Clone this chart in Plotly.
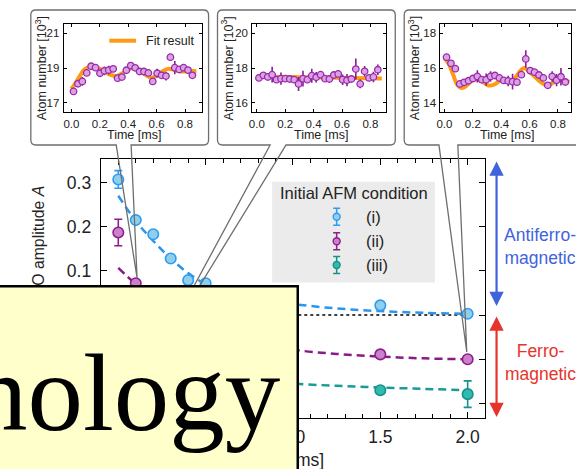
import plotly.graph_objects as go

W, H = 576, 469
def px(x): return x / W
def py(y): return 1 - y / H

FONT = "Liberation Sans, Arial, sans-serif"
SERIF = "Liberation Serif, Times New Roman, serif"

# ---------------- main panel data ----------------
t_i = [0.0, 0.1, 0.2, 0.3, 0.4, 0.5, 1.5, 2.0]
amp_i = [0.307, 0.215, 0.183, 0.128, 0.079, 0.072, 0.022, 0.003]
err_i = [0.020, 0.006, 0.006, 0.006, 0.006, 0.006, 0.006, 0.006]

t_ii = [0.0, 0.1, 1.5, 2.0]
amp_ii = [0.187, 0.072, -0.089, -0.100]
err_ii = [0.030, 0.006, 0.008, 0.006]

t_iii = [1.5, 2.0]
amp_iii = [-0.170, -0.179]
err_iii = [0.006, 0.030]

fit_t = [0.0, 0.1, 0.2, 0.3, 0.4, 0.5, 0.6, 0.8, 1.0, 1.25, 1.5, 1.75, 2.0]
fit_i = [0.27, 0.213, 0.168, 0.128, 0.095, 0.07, 0.055, 0.036, 0.025, 0.015, 0.009, 0.005, 0.003]
fit_ii = [0.107, 0.07, 0.04, 0.015, -0.005, -0.022, -0.037, -0.06, -0.078, -0.088, -0.094, -0.098, -0.1]
fit_iii = [-0.07, -0.085, -0.1, -0.11, -0.12, -0.128, -0.135, -0.147, -0.155, -0.16, -0.164, -0.167, -0.17]

zero_t = [0.0, 2.03]
zero_v = [0.0, 0.0]

labels = ["(i)", "(ii)", "(iii)"]

# ---------------- inset data ----------------
t_in = [0.015, 0.046, 0.077, 0.108, 0.139, 0.170, 0.201, 0.232, 0.263, 0.294,
        0.325, 0.356, 0.387, 0.418, 0.449, 0.480, 0.511, 0.542, 0.573, 0.604,
        0.635, 0.666, 0.697, 0.728, 0.759, 0.790, 0.821, 0.852]

n1 = [17.66, 18.10, 18.23, 18.72, 19.10, 19.02, 18.70, 18.84, 18.88, 18.95,
      18.42, 18.48, 18.87, 19.14, 19.01, 18.80, 18.80, 18.72, 18.23, 18.70,
      18.58, 18.54, 19.62, 19.02, 18.92, 19.02, 18.88, 18.58]
e1 = [0.1, 0.12, 0.25, 0.12, 0.1, 0.1, 0.1, 0.25, 0.25, 0.1, 0.12, 0.1, 0.1, 0.1,
      0.1, 0.1, 0.1, 0.1, 0.1, 0.25, 0.15, 0.25, 0.1, 0.38, 0.15, 0.15, 0.1, 0.12]
f1_t = [0.0, 0.03, 0.06, 0.09, 0.12, 0.16, 0.20, 0.24, 0.28, 0.32, 0.36, 0.40,
        0.44, 0.48, 0.52, 0.56, 0.60, 0.64, 0.68, 0.72, 0.76, 0.80, 0.84, 0.88]
f1_v = [17.8, 18.15, 18.55, 18.9, 19.05, 19.05, 18.95, 18.75, 18.6, 18.55, 18.7, 18.92,
        19.0, 18.88, 18.62, 18.45, 18.55, 18.8, 18.95, 18.9, 18.82, 18.8, 18.82, 18.82]

n2 = [17.43, 17.58, 17.49, 17.62, 17.33, 17.39, 17.39, 17.37, 17.33, 17.09,
      17.39, 17.33, 17.56, 17.47, 17.62, 17.39, 17.37, 17.60, 17.66, 17.33,
      17.30, 17.37, 17.94, 17.09, 17.81, 17.43, 17.49, 17.90]
e2 = [0.1, 0.1, 0.2, 0.45, 0.1, 0.35, 0.1, 0.1, 0.1, 0.4, 0.45, 0.1, 0.4, 0.3,
      0.1, 0.1, 0.1, 0.1, 0.1, 0.3, 0.35, 0.15, 0.6, 0.25, 0.3, 0.15, 0.3, 0.3]
f2_t = [0.0, 0.45, 0.88]
f2_v = [17.52, 17.46, 17.40]

n3 = [16.62, 16.27, 15.96, 15.09, 15.18, 15.27, 15.40, 15.52, 15.33, 15.33,
      15.52, 15.57, 15.43, 15.29, 15.26, 15.22, 15.19, 15.62, 16.52, 15.85,
      15.76, 15.60, 15.43, 15.01, 15.52, 15.30, 15.50, 15.20]
e3 = [0.1, 0.1, 0.1, 0.1, 0.1, 0.1, 0.1, 0.35, 0.1, 0.35, 0.3, 0.1, 0.1, 0.1,
      0.3, 0.45, 0.1, 0.1, 0.5, 0.1, 0.1, 0.1, 0.1, 0.1, 0.3, 0.35, 0.5, 0.15]
f3_t = [0.0, 0.03, 0.06, 0.09, 0.12, 0.15, 0.19, 0.23, 0.27, 0.31, 0.35, 0.39, 0.43,
        0.47, 0.50, 0.53, 0.56, 0.59, 0.63, 0.67, 0.71, 0.75, 0.79, 0.83, 0.88]
f3_v = [16.55, 16.25, 15.65, 15.05, 14.85, 14.95, 15.25, 15.35, 15.2, 15.0, 15.05, 15.25,
        15.25, 15.2, 15.45, 15.8, 16.0, 15.85, 15.55, 15.25, 15.05, 15.1, 15.25, 15.3, 15.2]

# ---------------- styles ----------------
EDGE = ["#2e9cf2", "#8a1f8a", "#17918c"]
FILL = ["#90cfea", "#cc80cc", "#2fbcae"]
DASHC = ["#2b95ee", "#8b1a89", "#1a9c96"]
IN_EDGE, IN_FILL, IN_ERR, ORANGE = "#9a2aa8", "#d9a2e4", "#8a1a9a", "#ff9a14"

fig = go.Figure()

# dotted zero line
fig.add_trace(go.Scatter(x=zero_t, y=zero_v, mode="lines",
                         line=dict(color="black", width=1.5, dash="dot"),
                         xaxis="x", yaxis="y", showlegend=False))
for fv, c in zip([fit_i, fit_ii, fit_iii], DASHC):
    fig.add_trace(go.Scatter(x=fit_t, y=fv, mode="lines", line_shape="spline",
                             line=dict(color=c, width=2.5, dash="8px,5px"),
                             xaxis="x", yaxis="y", showlegend=False))
for (tt, aa, ee), k in zip([(t_i, amp_i, err_i), (t_ii, amp_ii, err_ii), (t_iii, amp_iii, err_iii)], range(3)):
    fig.add_trace(go.Scatter(x=tt, y=aa, mode="markers",
                             marker=dict(size=10.5, color=FILL[k], line=dict(color=EDGE[k], width=1.6)),
                             error_y=dict(type="data", array=ee, color=EDGE[k], thickness=1.6, width=4),
                             xaxis="x", yaxis="y", showlegend=False))

# insets
for k, (nn, ee, ft, fv) in enumerate([(n1, e1, f1_t, f1_v), (n2, e2, f2_t, f2_v), (n3, e3, f3_t, f3_v)]):
    xa = "x%d" % (k + 2)
    ya = "y%d" % (k + 2)
    fig.add_trace(go.Scatter(x=ft, y=fv, mode="lines", line_shape="spline",
                             line=dict(color=ORANGE, width=4), xaxis=xa, yaxis=ya, showlegend=False))
    fig.add_trace(go.Scatter(x=t_in, y=nn, mode="markers",
                             marker=dict(size=6.5, color=IN_FILL, line=dict(color=IN_EDGE, width=1.3)),
                             error_y=dict(type="data", array=ee, color=IN_ERR, thickness=1.6, width=0),
                             xaxis=xa, yaxis=ya, showlegend=False))

# legend key symbols (overlay pixel axis)
leg_x = 335
leg_y = [216.7, 241.2, 265.0]
for k in range(3):
    fig.add_trace(go.Scatter(x=[leg_x], y=[leg_y[k]], mode="markers",
                             marker=dict(size=7, color=FILL[k], line=dict(color=EDGE[k], width=1.4)),
                             error_y=dict(type="data", array=[8.5], color=EDGE[k], thickness=1.5, width=3.5),
                             xaxis="x5", yaxis="y5", showlegend=False))

axline = dict(showline=True, linecolor="black", mirror="allticks", ticks="inside",
              tickcolor="black", showgrid=False, zeroline=False)

layout = dict(
    width=W, height=H, autosize=False,
    margin=dict(l=0, r=0, t=0, b=0),
    paper_bgcolor="white", plot_bgcolor="rgba(0,0,0,0)",
    font=dict(family=FONT, color="#222"),
    xaxis=dict(domain=[px(97.5), px(484.5)], range=[-0.1, 2.1], anchor="y",
               linewidth=1.3, ticklen=6, tickwidth=1.2,
               tickvals=[0, 0.5, 1.0, 1.5, 2.0], ticktext=["0.0", "0.5", "1.0", "1.5", "2.0"],
               tickfont=dict(size=17.5, family=FONT, color="#222"),
               minor=dict(dtick=0.1, tick0=0, ticks="inside", ticklen=3.5, tickcolor="black", tickwidth=1),
               ticklabelstandoff=3, **axline),
    yaxis=dict(domain=[py(417.7), py(159.3)], range=[-0.2323, 0.3526], anchor="x",
               linewidth=1.3, ticklen=6, tickwidth=1.2,
               tickvals=[-0.2, -0.1, 0.0, 0.1, 0.2, 0.3],
               ticktext=["-0.2", "-0.1", "0.0", "0.1", "0.2", "0.3"],
               tickfont=dict(size=17.5, family=FONT, color="#222"),
               ticklabelstandoff=5, **axline),
    xaxis5=dict(domain=[0, 1], range=[0, W], anchor="y5", visible=False, fixedrange=True),
    yaxis5=dict(domain=[0, 1], range=[H, 0], anchor="x5", visible=False, fixedrange=True),
)

inset_x = [(60, 199.3, -0.055, 0.919), (250, 384.3, -0.032, 0.907), (439.5, 571.3, -0.028, 0.894)]
inset_y = [(16.5, 21.5, [17, 19, 21]), (15.5, 20.5, [16, 18, 20]), (13.5, 18.5, [14, 16, 18])]
for k in range(3):
    x0, x1, r0, r1 = inset_x[k]
    lo, hi, yt = inset_y[k]
    layout["xaxis%d" % (k + 2)] = dict(domain=[px(x0), px(x1)], range=[r0, r1], anchor="y%d" % (k + 2),
                                       linewidth=1, ticklen=3, tickwidth=1,
                                       tickvals=[0, 0.2, 0.4, 0.6, 0.8],
                                       ticktext=["0.0", "0.2", "0.4", "0.6", "0.8"],
                                       tickfont=dict(size=11.5, family=FONT, color="#222"),
                                       ticklabelstandoff=1, **axline)
    layout["yaxis%d" % (k + 2)] = dict(domain=[py(111.7), py(24.3)], range=[lo, hi], anchor="x%d" % (k + 2),
                                       linewidth=1, ticklen=3, tickwidth=1, tickvals=yt,
                                       tickfont=dict(size=11.5, family=FONT, color="#222"),
                                       ticklabelstandoff=1, **axline)

fig.update_layout(**layout)

# ---------------- shapes ----------------
def callout(L, R, T, B, a, b, tip, r=5):
    def P(x, y):
        return "%.5f,%.5f" % (px(x), py(y))
    d = "M" + P(a, B)
    d += " L" + P(L + r, B) + " Q" + P(L, B) + " " + P(L, B - r)
    d += " L" + P(L, T + r) + " Q" + P(L, T) + " " + P(L + r, T)
    d += " L" + P(R - r, T) + " Q" + P(R, T) + " " + P(R, T + r)
    d += " L" + P(R, B - r) + " Q" + P(R, B) + " " + P(R - r, B)
    d += " L" + P(b, B) + " L" + P(tip[0], tip[1]) + " Z"
    return dict(type="path", path=d, xref="paper", yref="paper",
                line=dict(color="#6e6e6e", width=1.3), fillcolor="rgba(0,0,0,0)", layer="above")

shapes = [
    dict(type="rect", xref="paper", yref="paper", x0=px(270), x1=px(434), y0=py(282.5), y1=py(181.7),
         fillcolor="#ebebeb", line=dict(width=0), layer="below"),
    callout(27, 206, 10, 145, 113, 128, (134, 278)),
    callout(215, 394, 10, 145, 268, 284, (150, 362)),
    callout(403, 590, 10, 145, 438, 457, (466, 352)),
    dict(type="line", xref="paper", yref="paper", x0=px(106), x1=px(133), y0=py(40.7), y1=py(40.7),
         line=dict(color=ORANGE, width=4)),
]
fig.update_layout(shapes=shapes)

# ---------------- annotations ----------------
ann = []
inset_title_x = [37.5, 225, 413]
inset_xtitle_x = [131, 319, 507]
for k in range(3):
    ann.append(dict(text="Atom number [10<sup>3</sup>]", x=px(inset_title_x[k]), y=py(68), xref="paper", yref="paper",
                    textangle=-90, showarrow=False, font=dict(size=12.5, family=FONT, color="#222"),
                    xanchor="center", yanchor="middle"))
    ann.append(dict(text="Time [ms]", x=px(inset_xtitle_x[k]), y=py(135), xref="paper", yref="paper",
                    showarrow=False, font=dict(size=12.5, family=FONT, color="#222"),
                    xanchor="center", yanchor="middle"))
ann.append(dict(text="Fit result", x=px(141), y=py(40.7), xref="paper", yref="paper", showarrow=False,
                font=dict(size=12.5, family=FONT, color="#222"), xanchor="left", yanchor="middle"))

# legend texts
ann.append(dict(text="Initial AFM condition", x=px(276), y=py(193), xref="paper", yref="paper", showarrow=False,
                font=dict(size=16.5, family=FONT, color="#222"), xanchor="left", yanchor="middle"))
for k in range(3):
    ann.append(dict(text=labels[k], x=px(363), y=py(leg_y[k]), xref="paper", yref="paper", showarrow=False,
                    font=dict(size=16.5, family=FONT, color="#222"), xanchor="left", yanchor="middle"))

# arrows + labels on the right
BLUE, RED = "#3f63dd", "#e8332a"
ann.append(dict(text="", x=px(496), y=py(161.5), xref="paper", yref="paper", ax=0, ay=146,
                showarrow=True, arrowside="end+start", arrowhead=2, arrowsize=1.3, arrowwidth=2.2,
                arrowcolor=BLUE))
ann.append(dict(text="", x=px(496), y=py(316.5), xref="paper", yref="paper", ax=0, ay=102,
                showarrow=True, arrowside="end+start", arrowhead=2, arrowsize=1.3, arrowwidth=2.2,
                arrowcolor=RED))
ann.append(dict(text="Antiferro-<br>magnetic", x=px(540), y=py(246), xref="paper", yref="paper",
                showarrow=False, align="center", font=dict(size=17.5, family=FONT, color=BLUE),
                xanchor="center", yanchor="middle"))
ann.append(dict(text="Ferro-<br>magnetic", x=px(540), y=py(362), xref="paper", yref="paper",
                showarrow=False, align="center", font=dict(size=17.5, family=FONT, color=RED),
                xanchor="center", yanchor="middle"))

# main axis titles
ann.append(dict(text="O amplitude <i>A</i>", x=px(34), y=py(184), xref="paper", yref="paper",
                textangle=-90, showarrow=False, font=dict(size=15.8, family=FONT, color="#222"),
                xanchor="center", yanchor="top"))
ann.append(dict(text="Time [ms]", x=px(324), y=py(460), xref="paper", yref="paper", showarrow=False,
                font=dict(size=17.5, family=FONT, color="#222"), xanchor="right", yanchor="middle"))

# yellow overlay box with text
ann.append(dict(text=" ", x=px(297.5), y=py(285), xref="paper", yref="paper", showarrow=False,
                xanchor="right", yanchor="top", width=350, height=220,
                bgcolor="#ffffcc", bordercolor="black", borderwidth=2.5, borderpad=0))
ann.append(dict(text="nology", x=px(280), y=py(392.5), xref="paper", yref="paper", showarrow=False,
                xanchor="right", yanchor="middle", borderpad=0,
                font=dict(size=111, family=SERIF, color="black")))

fig.update_layout(annotations=ann)

fig.write_html("out.html", config={"displayModeBar": False},
               post_script="document.body.style.margin='0px';document.body.style.overflow='hidden';")
